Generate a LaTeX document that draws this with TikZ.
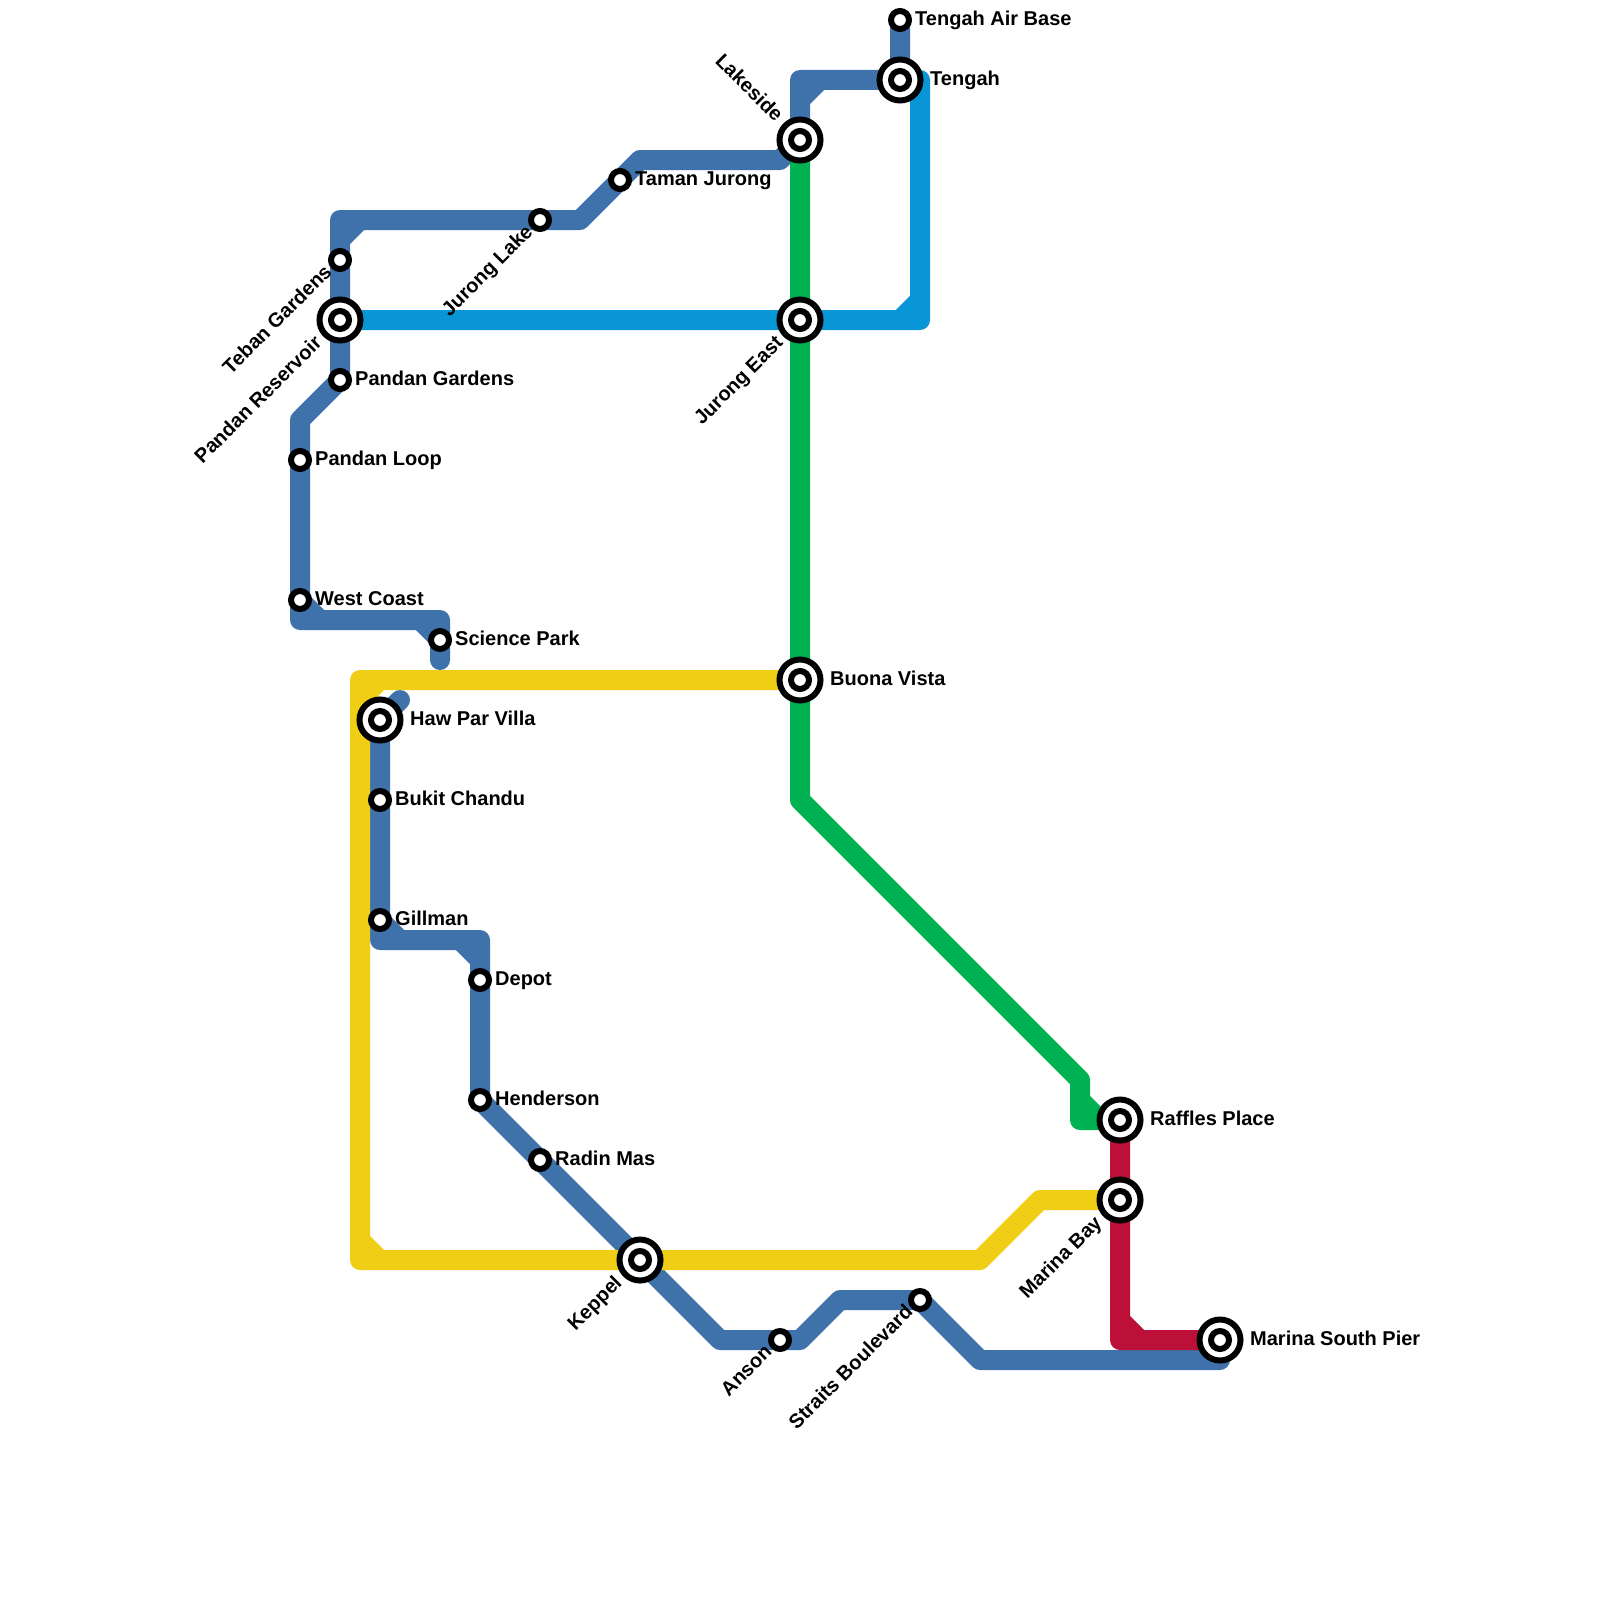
\documentclass[tikz,border=0pt]{standalone}
\usepackage{fontspec}
\setmainfont{Liberation Sans}
\definecolor{lineblue}{HTML}{3F72AA}
\definecolor{linesky}{HTML}{0896D7}
\definecolor{linegreen}{HTML}{00B251}
\definecolor{lineyellow}{HTML}{F0CE15}
\definecolor{linered}{HTML}{BD1038}
\pgfdeclarelayer{lines}
\pgfsetlayers{lines,main}
\tikzset{
  metro/.style={line width=20pt,line join=round,line cap=round},
  smallstn/.style={circle,draw=black,fill=white,line width=6pt,minimum size=18pt,inner sep=0pt,outer sep=0pt},
  bigstn/.style={circle,draw=black,fill=white,line width=6pt,minimum size=41pt,inner sep=0pt,outer sep=0pt},
  rlab/.style={anchor=base west,inner sep=0pt,font=\fontsize{20pt}{24pt}\selectfont\bfseries},
  ulab/.style={anchor=base east,inner sep=0pt,rotate=45,font=\fontsize{20pt}{24pt}\selectfont\bfseries},
  dlab/.style={anchor=base east,inner sep=0pt,rotate=-45,font=\fontsize{20pt}{24pt}\selectfont\bfseries},
}
\newcommand{\smallS}[2]{\node[smallstn] (#1) at (#2) {};}
\newcommand{\bigS}[2]{\node[bigstn] (#1o) at (#2) {};\node[smallstn] (#1) at (#2) {};}
\begin{document}
\begin{tikzpicture}[x=1pt,y=-1pt]
\useasboundingbox (0,0) rectangle (1600,1600);
% stations
\smallS{airbase}{900,20}
\bigS{tengah}{900,80}
\bigS{lakeside}{800,140}
\smallS{taman}{620,180}
\smallS{jlake}{540,220}
\smallS{teban}{340,260}
\bigS{reservoir}{340,320}
\smallS{pgardens}{340,380}
\smallS{ploop}{300,460}
\smallS{wcoast}{300,600}
\smallS{science}{440,640}
\bigS{hawpar}{380,720}
\smallS{chandu}{380,800}
\smallS{gillman}{380,920}
\smallS{depot}{480,980}
\smallS{henderson}{480,1100}
\smallS{radin}{540,1160}
\bigS{keppel}{640,1260}
\smallS{anson}{780,1340}
\smallS{straits}{920,1300}
\bigS{pier}{1220,1340}
\bigS{raffles}{1120,1120}
\bigS{mbay}{1120,1200}
\bigS{buona}{800,680}
\bigS{jeast}{800,320}
% bends
\coordinate (a2) at (800,80);
\coordinate (a3) at (800,100);\coordinate (a4) at (820,80);
\coordinate (b1) at (780,160);\coordinate (b2) at (640,160);\coordinate (b3) at (580,220);
\coordinate (b4) at (340,220);\coordinate (b5) at (340,240);\coordinate (b6) at (360,220);
\coordinate (b7) at (300,420);\coordinate (b8) at (300,620);\coordinate (b9) at (320,620);
\coordinate (b10) at (440,620);\coordinate (b11) at (420,620);\coordinate (b12) at (440,660);
\coordinate (c1) at (400,700);\coordinate (c2) at (380,940);\coordinate (c3) at (400,940);
\coordinate (c4) at (480,940);\coordinate (c5) at (460,940);\coordinate (c6) at (480,960);
\coordinate (c7) at (720,1340);\coordinate (c8) at (800,1340);\coordinate (c9) at (840,1300);
\coordinate (c10) at (980,1360);\coordinate (c11) at (1220,1360);
\coordinate (d1) at (920,320);\coordinate (d2) at (920,80);
\coordinate (d3) at (900,320);\coordinate (d4) at (920,300);
\coordinate (e1) at (800,800);\coordinate (e2) at (1080,1080);\coordinate (e3) at (1080,1120);
\coordinate (e4) at (1080,1100);\coordinate (e5) at (1100,1120);
\coordinate (f1) at (360,680);\coordinate (f2) at (360,1260);
\coordinate (f3) at (360,700);\coordinate (f4) at (380,680);
\coordinate (f5) at (360,1240);\coordinate (f6) at (380,1260);
\coordinate (f7) at (980,1260);\coordinate (f8) at (1040,1200);
\coordinate (g1) at (1120,1340);\coordinate (g2) at (1120,1320);\coordinate (g3) at (1140,1340);
% lines
\begin{pgfonlayer}{lines}
\fill[white] (0,0) rectangle (1600,1600);
\draw[metro,lineblue] (airbase.center) -- (tengah.center) -- (a2) -- (lakeside.center) (a3) -- (a4);
\draw[metro,lineblue] (lakeside.center) -- (b1) -- (b2) -- (taman.center) -- (b3) -- (jlake.center) -- (b4) -- (teban.center) -- (reservoir.center) -- (pgardens.center) -- (b7) -- (ploop.center) -- (wcoast.center) -- (b8) -- (b10) -- (science.center) -- (b12) (b5) -- (b6) (wcoast.center) -- (b9) (b11) -- (science.center);
\draw[metro,lineblue] (c1) -- (hawpar.center) -- (chandu.center) -- (gillman.center) -- (c2) -- (c4) -- (depot.center) -- (henderson.center) -- (radin.center) -- (keppel.center) -- (c7) -- (anson.center) -- (c8) -- (c9) -- (straits.center) -- (c10) -- (c11) -- (pier.center) (gillman.center) -- (c3) (c5) -- (c6);
\draw[metro,linered] (raffles.center) -- (mbay.center) -- (g1) -- (pier.center) (g2) -- (g3);
\draw[metro,linesky] (reservoir.center) -- (jeast.center) -- (d1) -- (d2) -- (tengah.center) (d3) -- (d4);
\draw[metro,linegreen] (lakeside.center) -- (jeast.center) -- (buona.center) -- (e1) -- (e2) -- (e3) -- (raffles.center) (e4) -- (e5);
\draw[metro,lineyellow] (buona.center) -- (f1) -- (f2) -- (keppel.center) -- (f7) -- (f8) -- (mbay.center) (f3) -- (f4) (f5) -- (f6);
\end{pgfonlayer}
% labels
\node[rlab] (tAirbase) at (915,26) {Tengah Air Base};
\node[rlab] (tTengah) at (930,86) {Tengah};
\node[rlab] (tTaman) at (635,185) {Taman Jurong};
\node[rlab] (tPgardens) at (355,385) {Pandan Gardens};
\node[rlab] (tPloop) at (315,465) {Pandan Loop};
\node[rlab] (tWcoast) at (315,605) {West Coast};
\node[rlab] (tScience) at (455,645) {Science Park};
\node[rlab] (tHawpar) at (410,725) {Haw Par Villa};
\node[rlab] (tChandu) at (395,805) {Bukit Chandu};
\node[rlab] (tGillman) at (395,925) {Gillman};
\node[rlab] (tDepot) at (495,985) {Depot};
\node[rlab] (tHenderson) at (495,1105) {Henderson};
\node[rlab] (tRadin) at (555,1165) {Radin Mas};
\node[rlab] (tBuona) at (830,685) {Buona Vista};
\node[rlab] (tRaffles) at (1150,1125) {Raffles Place};
\node[rlab] (tPier) at (1250,1345) {Marina South Pier};
\node[ulab] (tJlake) at (534,233) {Jurong Lake};
\node[ulab] (tTeban) at (333,273) {Teban Gardens};
\node[ulab] (tReservoir) at (323,344) {Pandan Reservoir};
\node[ulab] (tJeast) at (784,344) {Jurong East};
\node[ulab] (tMbay) at (1103,1224) {Marina Bay};
\node[ulab] (tKeppel) at (623,1284) {Keppel};
\node[ulab] (tAnson) at (773,1353) {Anson};
\node[ulab] (tStraits) at (914,1313) {Straits Boulevard};
\node[dlab] (tLakeside) at (775,123) {Lakeside};
\end{tikzpicture}
\end{document}
